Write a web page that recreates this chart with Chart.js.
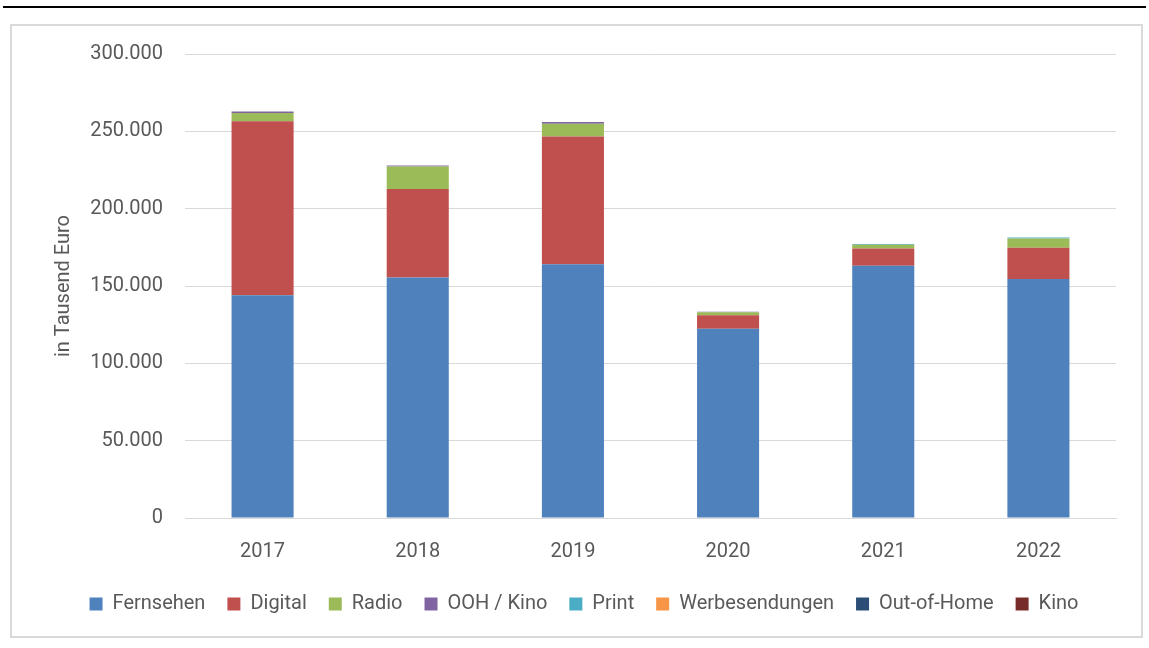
<!DOCTYPE html>
<html>
<head>
<meta charset="utf-8">
<script src="https://cdn.jsdelivr.net/npm/chart.js@4/dist/chart.umd.min.js"></script>
<style>
  html, body { margin: 0; padding: 0; background: #fff; }
  #wrap { position: relative; width: 1149px; height: 648px; }
  #topline { position: absolute; left: 3px; top: 6px; width: 1143px; height: 2px; background: #000; }
  #frame { position: absolute; left: 10px; top: 24px; width: 1133px; height: 614px; border: 2px solid #d9d9d9; box-sizing: border-box; }
  canvas { position: absolute; left: 0; top: 0; }
</style>
</head>
<body>
<div id="wrap">
  <div id="topline"></div>
  <div id="frame"></div>
  <canvas id="c" width="1149" height="648"></canvas>
</div>
<script>
const categories = ["2017", "2018", "2019", "2020", "2021", "2022"];
const fernsehen      = [144000, 155500, 164000, 122300, 163100, 154600];
const digital        = [112600,  57200,  82700,   8800,  11200,  20100];
const radio          = [  5200,  14500,   8200,   1900,   2400,   6000];
const oohKino        = [  1000,    700,   1100,    400,      0,      0];
const print          = [     0,      0,      0,      0,    400,    600];
const werbesendungen = [     0,      0,      0,      0,      0,      0];
const outOfHome      = [     0,      0,      0,      0,      0,      0];
const kino           = [     0,      0,      0,      0,      0,      0];
const yTicks = [0, 50000, 100000, 150000, 200000, 250000, 300000];

const FONT = "Roboto";
const series = [
  ["Fernsehen", fernsehen, "#4F81BD"],
  ["Digital", digital, "#C0504D"],
  ["Radio", radio, "#9BBB59"],
  ["OOH / Kino", oohKino, "#8064A2"],
  ["Print", print, "#4BACC6"],
  ["Werbesendungen", werbesendungen, "#F79646"],
  ["Out-of-Home", outOfHome, "#2C4D75"],
  ["Kino", kino, "#772C2A"]
];

new Chart(document.getElementById("c"), {
  type: "bar",
  data: {
    labels: categories,
    datasets: series.map(([label, data, color]) => ({
      label, data, backgroundColor: color, borderWidth: 0,
      categoryPercentage: 1, barPercentage: 0.4
    }))
  },
  options: {
    responsive: false,
    animation: false,
    layout: { padding: { left: 52, top: 54, right: 33, bottom: 24 } },
    plugins: {
      legend: {
        position: "bottom",
        labels: {
          boxWidth: 13, boxHeight: 13, padding: 22,
          color: "#595959",
          font: { family: FONT, size: 20 }
        }
      },
      tooltip: { enabled: false }
    },
    scales: {
      x: {
        stacked: true,
        afterFit: (s) => { s.height -= 6; },
        grid: { display: false },
        border: { display: true, color: "#d9d9d9", width: 1 },
        ticks: { color: "#595959", font: { family: FONT, size: 20 }, padding: 14 }
      },
      y: {
        stacked: true,
        min: 0, max: 300000,
        afterBuildTicks: (s) => { s.ticks = yTicks.map(v => ({ value: v })); },
        afterFit: (s) => { s.width = 185 - 52; },
        grid: { color: "#d9d9d9", lineWidth: 1, drawTicks: false },
        border: { display: false },
        title: { display: true, text: "in Tausend Euro", color: "#595959", font: { family: FONT, size: 20 }, padding: { top: 0, bottom: 8 } },
        ticks: {
          color: "#595959", font: { family: FONT, size: 20 }, padding: 22,
          callback: (v) => v === 0 ? "0" : v.toLocaleString("de-DE")
        }
      }
    }
  }
});
</script>
</body>
</html>
